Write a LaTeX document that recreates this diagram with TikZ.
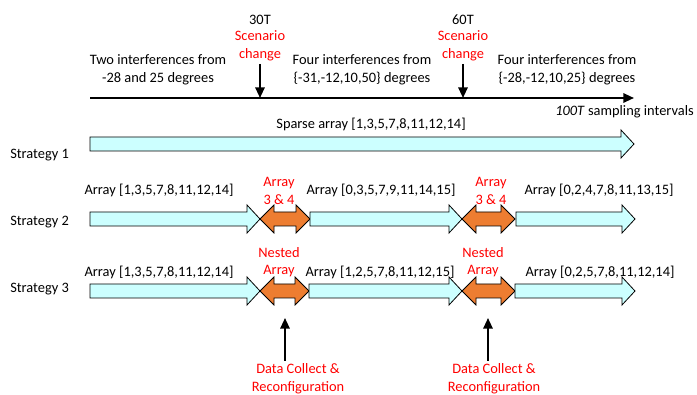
\documentclass[tikz,border=0pt]{standalone}
\usepackage{fontspec}
\setmainfont{Carlito}
\usetikzlibrary{arrows.meta}
\definecolor{lcyan}{HTML}{CCFFFF}
\definecolor{aorange}{HTML}{ED7D31}
\definecolor{ared}{HTML}{FF0000}
\newcommand\cyanarrow[4]{% name, x1, x2, y
  \path[cyanshape] (#2,#4-7) -- (#3-13,#4-7) -- (#3-13,#4-14) -- (#3,#4) -- (#3-13,#4+14) -- (#3-13,#4+7) -- (#2,#4+7) -- cycle;
  \coordinate (#1) at ({(#2+#3)/2},#4);}
\newcommand\orangearrow[4]{% name, x1, x2, y
  \path[orangeshape] (#2,#4) -- (#2+14,#4-14) -- (#2+14,#4-7) -- (#3-14,#4-7) -- (#3-14,#4-14) -- (#3,#4) -- (#3-14,#4+14) -- (#3-14,#4+7) -- (#2+14,#4+7) -- (#2+14,#4+14) -- cycle;
  \coordinate (#1) at ({(#2+#3)/2},#4+14);}
\begin{document}
\begin{tikzpicture}[x=0.75pt,y=-0.75pt,
  every node/.style={font=\fontsize{10.8}{13.2}\selectfont, inner sep=0pt, align=center},
  redtxt/.style={text=ared},
  cyanshape/.style={draw=black, line width=0.6pt, fill=lcyan},
  orangeshape/.style={draw=black, line width=0.6pt, fill=aorange},
  bigarrow/.style={line width=1.5pt, -{Triangle[width=7pt,length=8pt]}}]
\useasboundingbox (0,0) rectangle (697,395);
% timeline
\coordinate (tl0) at (90,98);
\coordinate (tl1) at (634,98);
\draw[bigarrow] (tl0) -- (tl1);
\node (t30) at (260,20) {30T};
\node[redtxt] (sc1) at (260,45.5) {Scenario\\change};
\node (t60) at (463,20) {60T};
\node[redtxt] (sc2) at (463,45.5) {Scenario\\change};
\coordinate (m30) at (260,98);
\coordinate (m60) at (463,98);
\coordinate (sc1s) at (260,64);
\coordinate (sc2s) at (463,64);
\draw[bigarrow] (sc1s) -- (m30);
\draw[bigarrow] (sc2s) -- (m60);
\node (i1) at (158,69.5) {Two interferences from\\-28 and 25 degrees};
\node (i2) at (362,69.5) {Four interferences from\\\{-31,-12,10,50\} degrees};
\node (i3) at (567,69.5) {Four interferences from\\\{-28,-12,10,25\} degrees};
\node[anchor=east] (samp) at (694,112) {\textit{100T} sampling intervals};
% strategy labels
\node[anchor=west] (s1) at (10,155) {Strategy 1};
\node[anchor=west] (s2) at (10,222) {Strategy 2};
\node[anchor=west] (s3) at (10,289) {Strategy 3};
% strategy 1
\cyanarrow{a1}{90}{634}{144}
\node (l1) at (371,124) {Sparse array [1,3,5,7,8,11,12,14]};
% strategy 2
\cyanarrow{b1}{90}{260}{219}
\orangearrow{o21}{260}{310}{219}
\cyanarrow{b2}{310}{462}{219}
\orangearrow{o22}{462}{515}{219}
\cyanarrow{b3}{516}{635}{219}
\node (l21) at (159,190) {Array [1,3,5,7,8,11,12,14]};
\node[redtxt] (r21) at (279,191) {Array\\3 \& 4};
\node (l22) at (381,190) {Array [0,3,5,7,9,11,14,15]};
\node[redtxt] (r22) at (491,191) {Array\\3 \& 4};
\node (l23) at (599,190) {Array [0,2,4,7,8,11,13,15]};
% strategy 3
\cyanarrow{c1}{90}{260}{291}
\orangearrow{o31}{260}{309}{291}
\cyanarrow{c2}{309}{462}{291}
\orangearrow{o32}{462}{515}{291}
\cyanarrow{c3}{515}{635}{291}
\node (l31) at (159,272) {Array [1,3,5,7,8,11,12,14]};
\node[redtxt] (r31) at (279,262) {Nested\\Array};
\node (l32) at (380,272) {Array [1,2,5,7,8,11,12,15]};
\node[redtxt] (r32) at (483,262) {Nested\\Array};
\node (l33) at (600,272) {Array [0,2,5,7,8,11,12,14]};
% data collect
\node[redtxt] (d1) at (298,379) {Data Collect \&\\Reconfiguration};
\node[redtxt] (d2) at (494,379) {Data Collect \&\\Reconfiguration};
\coordinate (u1) at (285,318);
\coordinate (u2) at (488,318);
\coordinate (d1t) at (285,361);
\coordinate (d2t) at (488,361);
\draw[bigarrow] (d1t) -- (u1);
\draw[bigarrow] (d2t) -- (u2);
\end{tikzpicture}
\end{document}
